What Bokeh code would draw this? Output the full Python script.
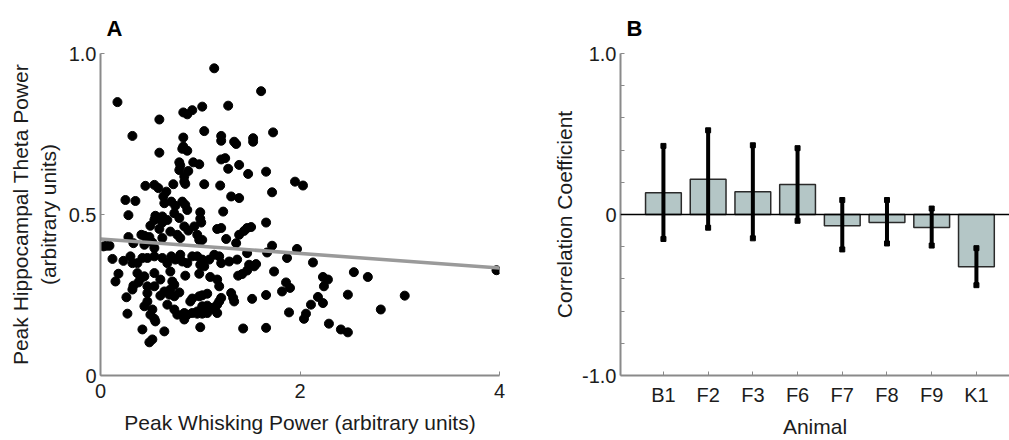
from bokeh.plotting import figure
from bokeh.layouts import row
from bokeh.models import Range1d, FixedTicker, Span
from bokeh.embed import file_html
from bokeh.resources import INLINE

# ---------------- Panel A data ----------------
whisk_power = [
    1.14, 1.61, 0.17, 0.83, 0.87, 0.92, 1.02, 1.28, 0.59, 0.32,
    1.04, 1.73, 0.83, 1.21, 1.21, 1.34, 1.36, 1.53, 1.53, 0.83,
    0.82, 0.87, 0.59, 0.93, 0.99, 0.79, 0.80, 0.79, 0.88, 0.84,
    0.84, 0.85, 1.21, 1.25, 1.28, 1.39, 1.48, 1.66, 0.45, 0.54,
    0.58, 0.73, 1.04, 1.20, 1.95, 2.03, 0.25, 0.35, 0.66, 0.63,
    0.64, 0.71, 0.75, 0.82, 0.85, 0.87, 1.31, 1.39, 1.72, 0.28,
    1.00, 1.00, 1.01, 1.23, 0.55, 0.54, 0.62, 0.67, 0.74, 0.79,
    1.66, 1.47, 1.51, 1.44, 1.39, 1.36, 1.17, 1.21, 1.26, 0.84,
    0.88, 0.94, 0.97, 0.99, 1.02, 0.70, 0.77, 0.80, 0.50, 0.59,
    0.62, 0.41, 0.44, 0.49, 0.28, 0.52, 0.62, 0.06, 0.09, 0.03,
    0.33, 0.44, 0.54, 1.72, 1.67, 1.97, 1.87, 0.12, 0.23, 0.30,
    0.32, 0.37, 0.42, 0.47, 0.54, 0.62, 0.67, 0.71, 0.75, 0.80,
    0.82, 0.87, 0.92, 0.97, 1.02, 1.00, 1.04, 1.09, 1.14, 1.19,
    1.21, 1.29, 1.37, 1.47, 1.49, 1.54, 1.56, 1.47, 2.13, 1.74,
    0.18, 0.15, 0.37, 0.40, 0.44, 0.54, 0.70, 0.60, 0.85, 0.99,
    1.10, 1.17, 1.19, 1.38, 1.42, 0.72, 0.74, 0.70, 0.69, 0.64,
    0.74, 0.79, 0.33, 0.32, 0.38, 0.47, 0.54, 2.23, 2.28, 2.24,
    1.86, 1.90, 1.82, 2.54, 2.68, 0.26, 0.47, 0.60, 0.47, 1.31,
    1.33, 1.34, 1.52, 0.92, 0.99, 1.02, 1.07, 1.66, 2.18, 2.23,
    2.11, 2.48, 3.05, 0.44, 0.52, 0.67, 0.74, 0.77, 0.90, 0.97,
    1.02, 1.07, 1.12, 1.17, 1.19, 1.21, 0.27, 0.50, 0.54, 0.55,
    0.84, 0.87, 0.92, 0.97, 1.02, 1.07, 1.14, 1.17, 0.84, 1.89,
    2.06, 2.04, 2.81, 1.00, 1.43, 1.66, 2.29, 2.41, 2.48, 0.42,
    0.64, 0.52, 0.49, 3.97,
]
theta_power = [
    0.954, 0.883, 0.849, 0.817, 0.811, 0.824, 0.835, 0.838, 0.795, 0.744,
    0.759, 0.755, 0.739, 0.744, 0.729, 0.726, 0.719, 0.737, 0.726, 0.711,
    0.704, 0.698, 0.692, 0.662, 0.656, 0.662, 0.652, 0.638, 0.635, 0.618,
    0.602, 0.595, 0.671, 0.675, 0.642, 0.654, 0.626, 0.633, 0.589, 0.592,
    0.582, 0.594, 0.594, 0.590, 0.602, 0.590, 0.545, 0.542, 0.571, 0.556,
    0.535, 0.540, 0.527, 0.540, 0.530, 0.514, 0.556, 0.551, 0.569, 0.498,
    0.507, 0.487, 0.475, 0.509, 0.496, 0.483, 0.494, 0.483, 0.504, 0.489,
    0.475, 0.458, 0.461, 0.449, 0.437, 0.411, 0.455, 0.458, 0.424, 0.463,
    0.450, 0.463, 0.437, 0.421, 0.421, 0.447, 0.437, 0.427, 0.465, 0.455,
    0.475, 0.437, 0.434, 0.430, 0.430, 0.413, 0.427, 0.403, 0.403, 0.401,
    0.411, 0.406, 0.396, 0.403, 0.382, 0.393, 0.365, 0.362, 0.356, 0.370,
    0.349, 0.349, 0.365, 0.365, 0.370, 0.365, 0.349, 0.370, 0.360, 0.375,
    0.354, 0.349, 0.370, 0.370, 0.360, 0.344, 0.339, 0.360, 0.375, 0.370,
    0.349, 0.354, 0.360, 0.380, 0.344, 0.339, 0.346, 0.326, 0.351, 0.323,
    0.316, 0.292, 0.318, 0.300, 0.308, 0.318, 0.323, 0.298, 0.310, 0.316,
    0.306, 0.298, 0.277, 0.310, 0.315, 0.292, 0.282, 0.267, 0.251, 0.261,
    0.246, 0.258, 0.279, 0.267, 0.289, 0.277, 0.277, 0.306, 0.298, 0.277,
    0.289, 0.272, 0.261, 0.321, 0.306, 0.243, 0.256, 0.248, 0.230, 0.256,
    0.241, 0.230, 0.238, 0.239, 0.246, 0.249, 0.254, 0.250, 0.244, 0.225,
    0.220, 0.251, 0.248, 0.215, 0.205, 0.220, 0.205, 0.189, 0.230, 0.199,
    0.215, 0.217, 0.210, 0.220, 0.230, 0.241, 0.192, 0.189, 0.176, 0.168,
    0.194, 0.189, 0.194, 0.192, 0.192, 0.194, 0.205, 0.194, 0.174, 0.196,
    0.192, 0.176, 0.205, 0.150, 0.146, 0.148, 0.161, 0.143, 0.134, 0.143,
    0.137, 0.112, 0.103, 0.327,
]
fit_x = [0.0, 4.0]
fit_y = [0.424, 0.334]
a_xticks = [0, 2, 4]
a_xlabels = ["0", "2", "4"]
a_yticks = [0, 0.5, 1.0]
a_ylabels = ["0", "0.5", "1.0"]

# ---------------- Panel B data ----------------
animals = ["B1", "F2", "F3", "F6", "F7", "F8", "F9", "K1"]
corr = [0.135, 0.219, 0.141, 0.186, -0.070, -0.049, -0.080, -0.324]
ci_upper = [0.426, 0.523, 0.430, 0.412, 0.090, 0.090, 0.037, -0.209]
ci_lower = [-0.152, -0.082, -0.148, -0.039, -0.217, -0.180, -0.193, -0.439]
b_yticks = [-1.0, 0.0, 1.0]
b_ylabels = ["-1.0", "0", "1.0"]
b_yminor = [-0.8, -0.6, -0.4, -0.2, 0.2, 0.4, 0.6, 0.8]

FONT = "Liberation Sans"
TXT = "#1c1c1c"
AXC = "#8a8a8a"


def style(p):
    p.outline_line_color = None
    p.grid.visible = False
    p.background_fill_color = "white"
    p.border_fill_color = "white"
    p.title.text_font = FONT
    p.title.text_font_size = "22px"
    p.title.text_font_style = "bold"
    p.title.text_color = "black"
    p.title.align = "left"
    p.title.offset = 6
    p.title.standoff = 26
    for ax in p.axis:
        ax.axis_line_color = AXC
        ax.axis_line_width = 2
        ax.major_tick_line_color = AXC
        ax.major_tick_line_width = 1
        ax.major_tick_in = 4
        ax.major_tick_out = 0
        ax.minor_tick_line_color = AXC
        ax.minor_tick_in = 4
        ax.minor_tick_out = 0
        ax.major_label_text_font = FONT
        ax.major_label_text_font_size = "20px"
        ax.major_label_text_color = TXT
        ax.axis_label_text_font = FONT
        ax.axis_label_text_font_size = "21px"
        ax.axis_label_text_font_style = "normal"
        ax.axis_label_text_color = TXT


# ---------------- Panel A ----------------
pa = figure(width=510, height=440, output_backend="svg", toolbar_location=None,
            x_range=Range1d(0, 4), y_range=Range1d(0, 1.0),
            min_border_left=100, min_border_right=11,
            min_border_top=53, min_border_bottom=64, title="A")
style(pa)
pa.xaxis.ticker = FixedTicker(ticks=a_xticks)
pa.xaxis.major_label_overrides = dict(zip(a_xticks, a_xlabels))
pa.yaxis.ticker = FixedTicker(ticks=a_yticks)
pa.yaxis.major_label_overrides = dict(zip(a_yticks, a_ylabels))
pa.xaxis.axis_label = "Peak Whisking Power (arbitrary units)"
pa.yaxis.axis_label = "Peak Hippocampal Theta Power\n(arbitrary units)"
pa.xaxis.major_label_standoff = 8
pa.xaxis.axis_label_standoff = 10
pa.yaxis.major_label_standoff = 4
pa.yaxis.axis_label_standoff = 6

pa.scatter(whisk_power, theta_power, size=9, color="black", line_color="black")
pa.line(fit_x, fit_y, line_color="#9a9a9a", line_width=3.5)

# ---------------- Panel B ----------------
pos = list(range(1, len(animals) + 1))
pb = figure(width=499, height=440, output_backend="svg", toolbar_location=None,
            x_range=Range1d(0.04, 8.74), y_range=Range1d(-1.0, 1.0),
            min_border_left=110, min_border_right=0,
            min_border_top=53, min_border_bottom=63, title="B")
style(pb)
pb.xaxis.ticker = FixedTicker(ticks=pos)
pb.xaxis.major_label_overrides = dict(zip(pos, animals))
pb.yaxis.ticker = FixedTicker(ticks=b_yticks, minor_ticks=b_yminor)
pb.yaxis.major_label_overrides = dict(zip(b_yticks, b_ylabels))
pb.xaxis.axis_label = "Animal"
pb.yaxis.axis_label = "Correlation Coefficient"
pb.xaxis.major_label_standoff = 8
pb.xaxis.axis_label_standoff = 6
pb.yaxis.major_label_standoff = 4
pb.yaxis.axis_label_standoff = 3

pb.vbar(x=pos, top=corr, bottom=0, width=0.8, fill_color="#b4c6c6",
        line_color="#2a2a2a", line_width=1.5)
pb.add_layout(Span(location=0, dimension="width", line_color="black", line_width=1.5))
pb.segment(x0=pos, y0=ci_lower, x1=pos, y1=ci_upper, line_color="black", line_width=4)
pb.scatter(pos + pos, ci_lower + ci_upper, marker="square", size=5, color="black")

layout = row(pa, pb)
open("out.html", "w").write(file_html(layout, INLINE))
